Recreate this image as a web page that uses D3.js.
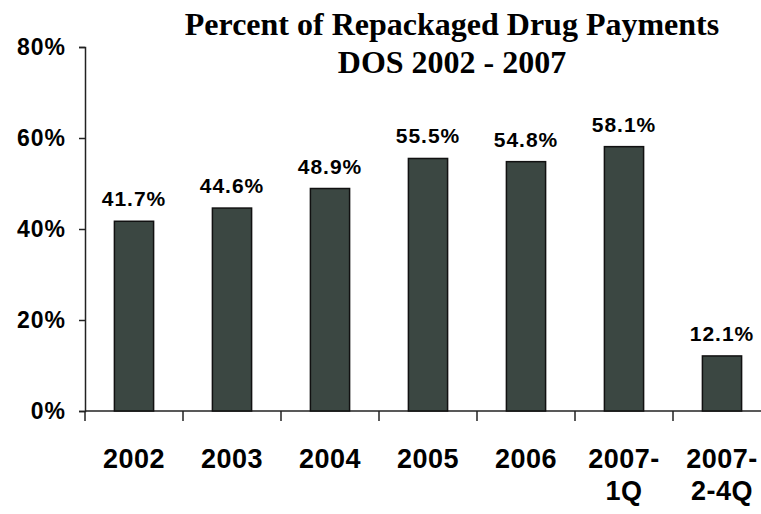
<!DOCTYPE html>
<html>
<head>
<meta charset="utf-8">
<script src="https://cdn.jsdelivr.net/npm/d3@7"></script>
<style>
  body { margin: 0; background: #fff; }
  svg { display: block; }
  .title { font-family: "Liberation Serif", "Times New Roman", serif; font-weight: bold; font-size: 32px; fill: #000; }
  .y-axis text { font-family: "Liberation Sans", Arial, sans-serif; font-weight: bold; font-size: 23px; letter-spacing: 1px; fill: #000; }
  .x-label { font-family: "Liberation Sans", Arial, sans-serif; font-weight: bold; font-size: 27px; letter-spacing: 0.5px; fill: #000; }
  .value { font-family: "Liberation Sans", Arial, sans-serif; font-weight: bold; font-size: 21px; letter-spacing: 1px; fill: #000; }
</style>
</head>
<body>
<svg id="chart"></svg>
<script>
// data
const categories = ["2002", "2003", "2004", "2005", "2006", "2007-\n1Q", "2007-\n2-4Q"];
const percents = [41.7, 44.6, 48.9, 55.5, 54.8, 58.1, 12.1];
const yTicks = [0, 20, 40, 60, 80];
const titleLines = ["Percent of Repackaged Drug Payments", "DOS 2002 - 2007"];

const config = {
  width: 761,
  height: 514,
  margin: { top: 47, right: -10, bottom: 103, left: 85 },
  barColor: "#3b4742"
};

const svg = d3.select("#chart")
  .attr("width", config.width)
  .attr("height", config.height);

const innerW = config.width - config.margin.left - config.margin.right;
const innerH = config.height - config.margin.top - config.margin.bottom;

const chart = svg.append("g")
  .attr("transform", `translate(${config.margin.left},${config.margin.top})`);

const xScale = d3.scaleBand().domain(categories).range([0, innerW]).paddingInner(0.6).paddingOuter(0.3);
const yScale = d3.scaleLinear().domain([0, 80]).range([innerH, 0]);

// y axis
const yAxis = d3.axisLeft(yScale)
  .tickValues(yTicks)
  .tickFormat(d => d + "%")
  .tickSize(6)
  .tickPadding(13);

const yAxisG = chart.append("g").attr("class", "y-axis").call(yAxis);
yAxisG.select(".domain").attr("stroke", "#222").attr("stroke-width", 1.5);
yAxisG.selectAll(".tick line").attr("stroke", "#222").attr("stroke-width", 1.5);

// x axis line and tick marks between categories
const step = xScale.step();
const x0 = xScale(categories[0]) - xScale.paddingOuter() * step;
chart.append("line")
  .attr("x1", 0).attr("x2", innerW)
  .attr("y1", innerH).attr("y2", innerH)
  .attr("stroke", "#222").attr("stroke-width", 1.5);

chart.selectAll(".x-tick")
  .data(categories)
  .join("line")
  .attr("class", "x-tick")
  .attr("x1", (d, i) => x0 + i * step)
  .attr("x2", (d, i) => x0 + i * step)
  .attr("y1", innerH)
  .attr("y2", innerH + 10)
  .attr("stroke", "#222").attr("stroke-width", 1.5);

// bars
chart.selectAll(".bar")
  .data(percents)
  .join("rect")
  .attr("class", "bar")
  .attr("x", (d, i) => xScale(categories[i]))
  .attr("y", d => yScale(d))
  .attr("width", xScale.bandwidth())
  .attr("height", d => innerH - yScale(d))
  .attr("fill", config.barColor)
  .attr("stroke", "#111")
  .attr("stroke-width", 1.5);

// value labels
chart.selectAll(".value")
  .data(percents)
  .join("text")
  .attr("class", "value")
  .attr("x", (d, i) => xScale(categories[i]) + xScale.bandwidth() / 2)
  .attr("y", d => yScale(d) - 15)
  .attr("text-anchor", "middle")
  .text(d => d.toFixed(1) + "%");

// category labels (may wrap onto two lines)
const xLabels = chart.selectAll(".x-label")
  .data(categories)
  .join("text")
  .attr("class", "x-label")
  .attr("text-anchor", "middle")
  .attr("transform", d => `translate(${xScale(d) + xScale.bandwidth() / 2},${innerH + 57})`);

xLabels.selectAll("tspan")
  .data(d => d.split("\n"))
  .join("tspan")
  .attr("x", 0)
  .attr("dy", (d, i) => (i === 0 ? 0 : 32))
  .text(d => d);

// title
svg.append("g")
  .selectAll("text")
  .data(titleLines)
  .join("text")
  .attr("class", "title")
  .attr("x", 452)
  .attr("y", (d, i) => 35 + i * 38)
  .attr("text-anchor", "middle")
  .text(d => d);
</script>
</body>
</html>
